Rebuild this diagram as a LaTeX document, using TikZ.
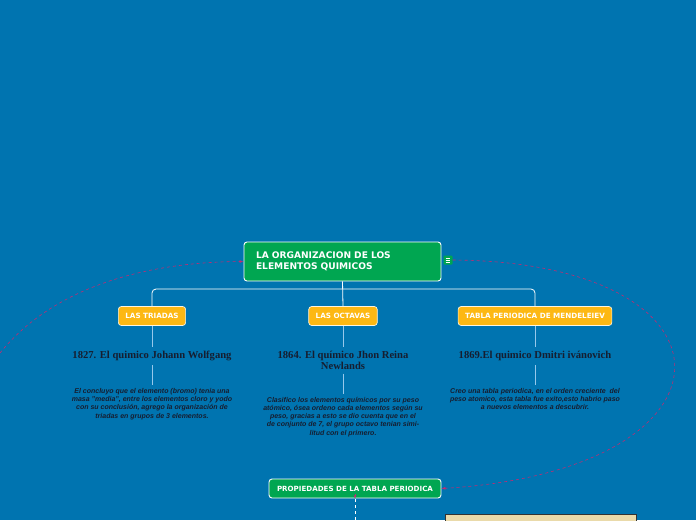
\documentclass[tikz,border=0pt]{standalone}
\usepackage{fontspec}
\setmainfont{Liberation Serif}
\setsansfont{Liberation Sans}
\newfontfamily\boxfont{DejaVu Sans}
\usetikzlibrary{positioning,arrows.meta}
\definecolor{mapblue}{RGB}{0,116,176}
\definecolor{mapgreen}{RGB}{0,166,81}
\definecolor{maporange}{RGB}{253,184,19}
\definecolor{mapink}{RGB}{22,30,48}
\definecolor{maplink}{RGB}{190,45,115}
\definecolor{mapline}{RGB}{150,200,235}
\definecolor{mapbeige}{RGB}{234,218,170}
\begin{document}
\begin{tikzpicture}[x=1pt,y=-1pt,
    topic/.style={draw=white,line width=0.9pt,rounded corners=3pt,fill=mapgreen,text=white,font=\boxfont\bfseries\fontsize{7.1}{8}\selectfont,minimum height=19pt,inner xsep=8pt},
    branch/.style={draw=white!85!maporange,line width=0.7pt,rounded corners=3pt,fill=maporange,text=white,font=\boxfont\bfseries\fontsize{7.2}{8}\selectfont,minimum height=19pt,inner xsep=7pt},
    who/.style={text=mapink,font=\bfseries\fontsize{10.6}{11}\selectfont,align=center,inner sep=4pt},
    what/.style={text=mapink,font=\sffamily\bfseries\itshape\fontsize{7}{8.3}\selectfont,align=center,inner sep=3pt},
    stem/.style={draw=mapline,line width=0.8pt},
    link/.style={draw=maplink,dashed,line width=0.6pt,-{Latex[length=4pt,width=3pt]}}]
  \fill[mapblue] (0,0) rectangle (696,520);
  \useasboundingbox (0,0) rectangle (696,520);

  % main topic
  \node[topic,font=\boxfont\bfseries\fontsize{9.1}{11}\selectfont,minimum width=197pt,minimum height=39pt,inner xsep=12pt,text width=173pt,align=left] (main) at (342.5,261.5) {LA ORGANIZACION DE LOS\\ELEMENTOS QUIMICOS};
  \node[fill=mapgreen,rounded corners=1pt,minimum size=9pt,inner sep=0pt] (icon) at (448,260) {};
  \foreach \dy in {-2,0,2}
    \draw[white,line width=0.6pt] ([xshift=-2.3pt,yshift=\dy pt]icon.center) -- ([xshift=2.3pt,yshift=\dy pt]icon.center);

  % branches
  \node[branch] (triadas) at (152,316) {LAS TRIADAS};
  \node[branch] (octavas) at (343,316) {LAS OCTAVAS};
  \node[branch] (mendel) at (535,316) {TABLA PERIODICA DE MENDELEIEV};
  \draw[white,line width=0.8pt,rounded corners=4pt] (triadas.north) |- (343,289) -| (mendel.north);
  \draw[white,line width=0.8pt] (main.south) -- (octavas.north);

  % chemists
  \node[who,below=21pt of triadas.south,anchor=north] (t1) {1827. El quimico Johann Wolfgang};
  \node[who,below=21pt of octavas.south,anchor=north] (t2) {1864. El químico Jhon Reina\\Newlands};
  \node[who,below=21pt of mendel.south,anchor=north] (t3) {1869.El quimico Dmitri ivánovich};
  \draw[stem] (triadas.south) -- (t1.north);
  \draw[stem] (octavas.south) -- (t2.north);
  \draw[stem] (mendel.south) -- (t3.north);

  % descriptions
  \node[what,below=20pt of t1.south,anchor=north] (d1) {El concluyo que el elemento (bromo) tenia una\\masa "media", entre los elementos cloro y yodo\\con su conclusión, agrego la organización de\\triadas en grupos de 3 elementos.};
  \node[what,below=20pt of t2.south,anchor=north] (d2) {Clasifico los elementos químicos por su peso\\atómico, ósea ordeno cada elementos según su\\peso, gracias a esto se dio cuenta que en el\\de conjunto de 7, el grupo octavo tenian simi-\\litud con el primero.};
  \node[what,below=20pt of t3.south,anchor=north] (d3) {Creo una tabla periodica, en el orden creciente~ del\\peso atomico, esta tabla fue exito,esto habrio paso\\a nuevos elementos a descubrir.};
  \draw[stem] (t1.south) -- (d1.north);
  \draw[stem] (t2.south) -- (d2.north);
  \draw[stem] (t3.south) -- (d3.north);

  % properties
  \node[topic] (prop) at (355,488.5) {PROPIEDADES DE LA TABLA PERIODICA};
  \coordinate (down) at (355,520);
  \draw[white,dashed,line width=0.7pt] (down) -- (prop.south);
  \draw[maplink,-{Latex[length=3pt,width=3pt]},line width=0.6pt] ([yshift=4pt]prop.south) -- (prop.south);
  \draw[draw=black!80,fill=mapbeige,line width=0.8pt] (445.5,514.5) rectangle (636,525);

  % relations
  \coordinate (far) at (0,353);
  \draw[link] (far) .. controls (55,285) and (150,262) .. (main.west);
  \draw[link] (icon.east) .. controls (750,262) and (750,470) .. (prop.east);
\end{tikzpicture}
\end{document}
